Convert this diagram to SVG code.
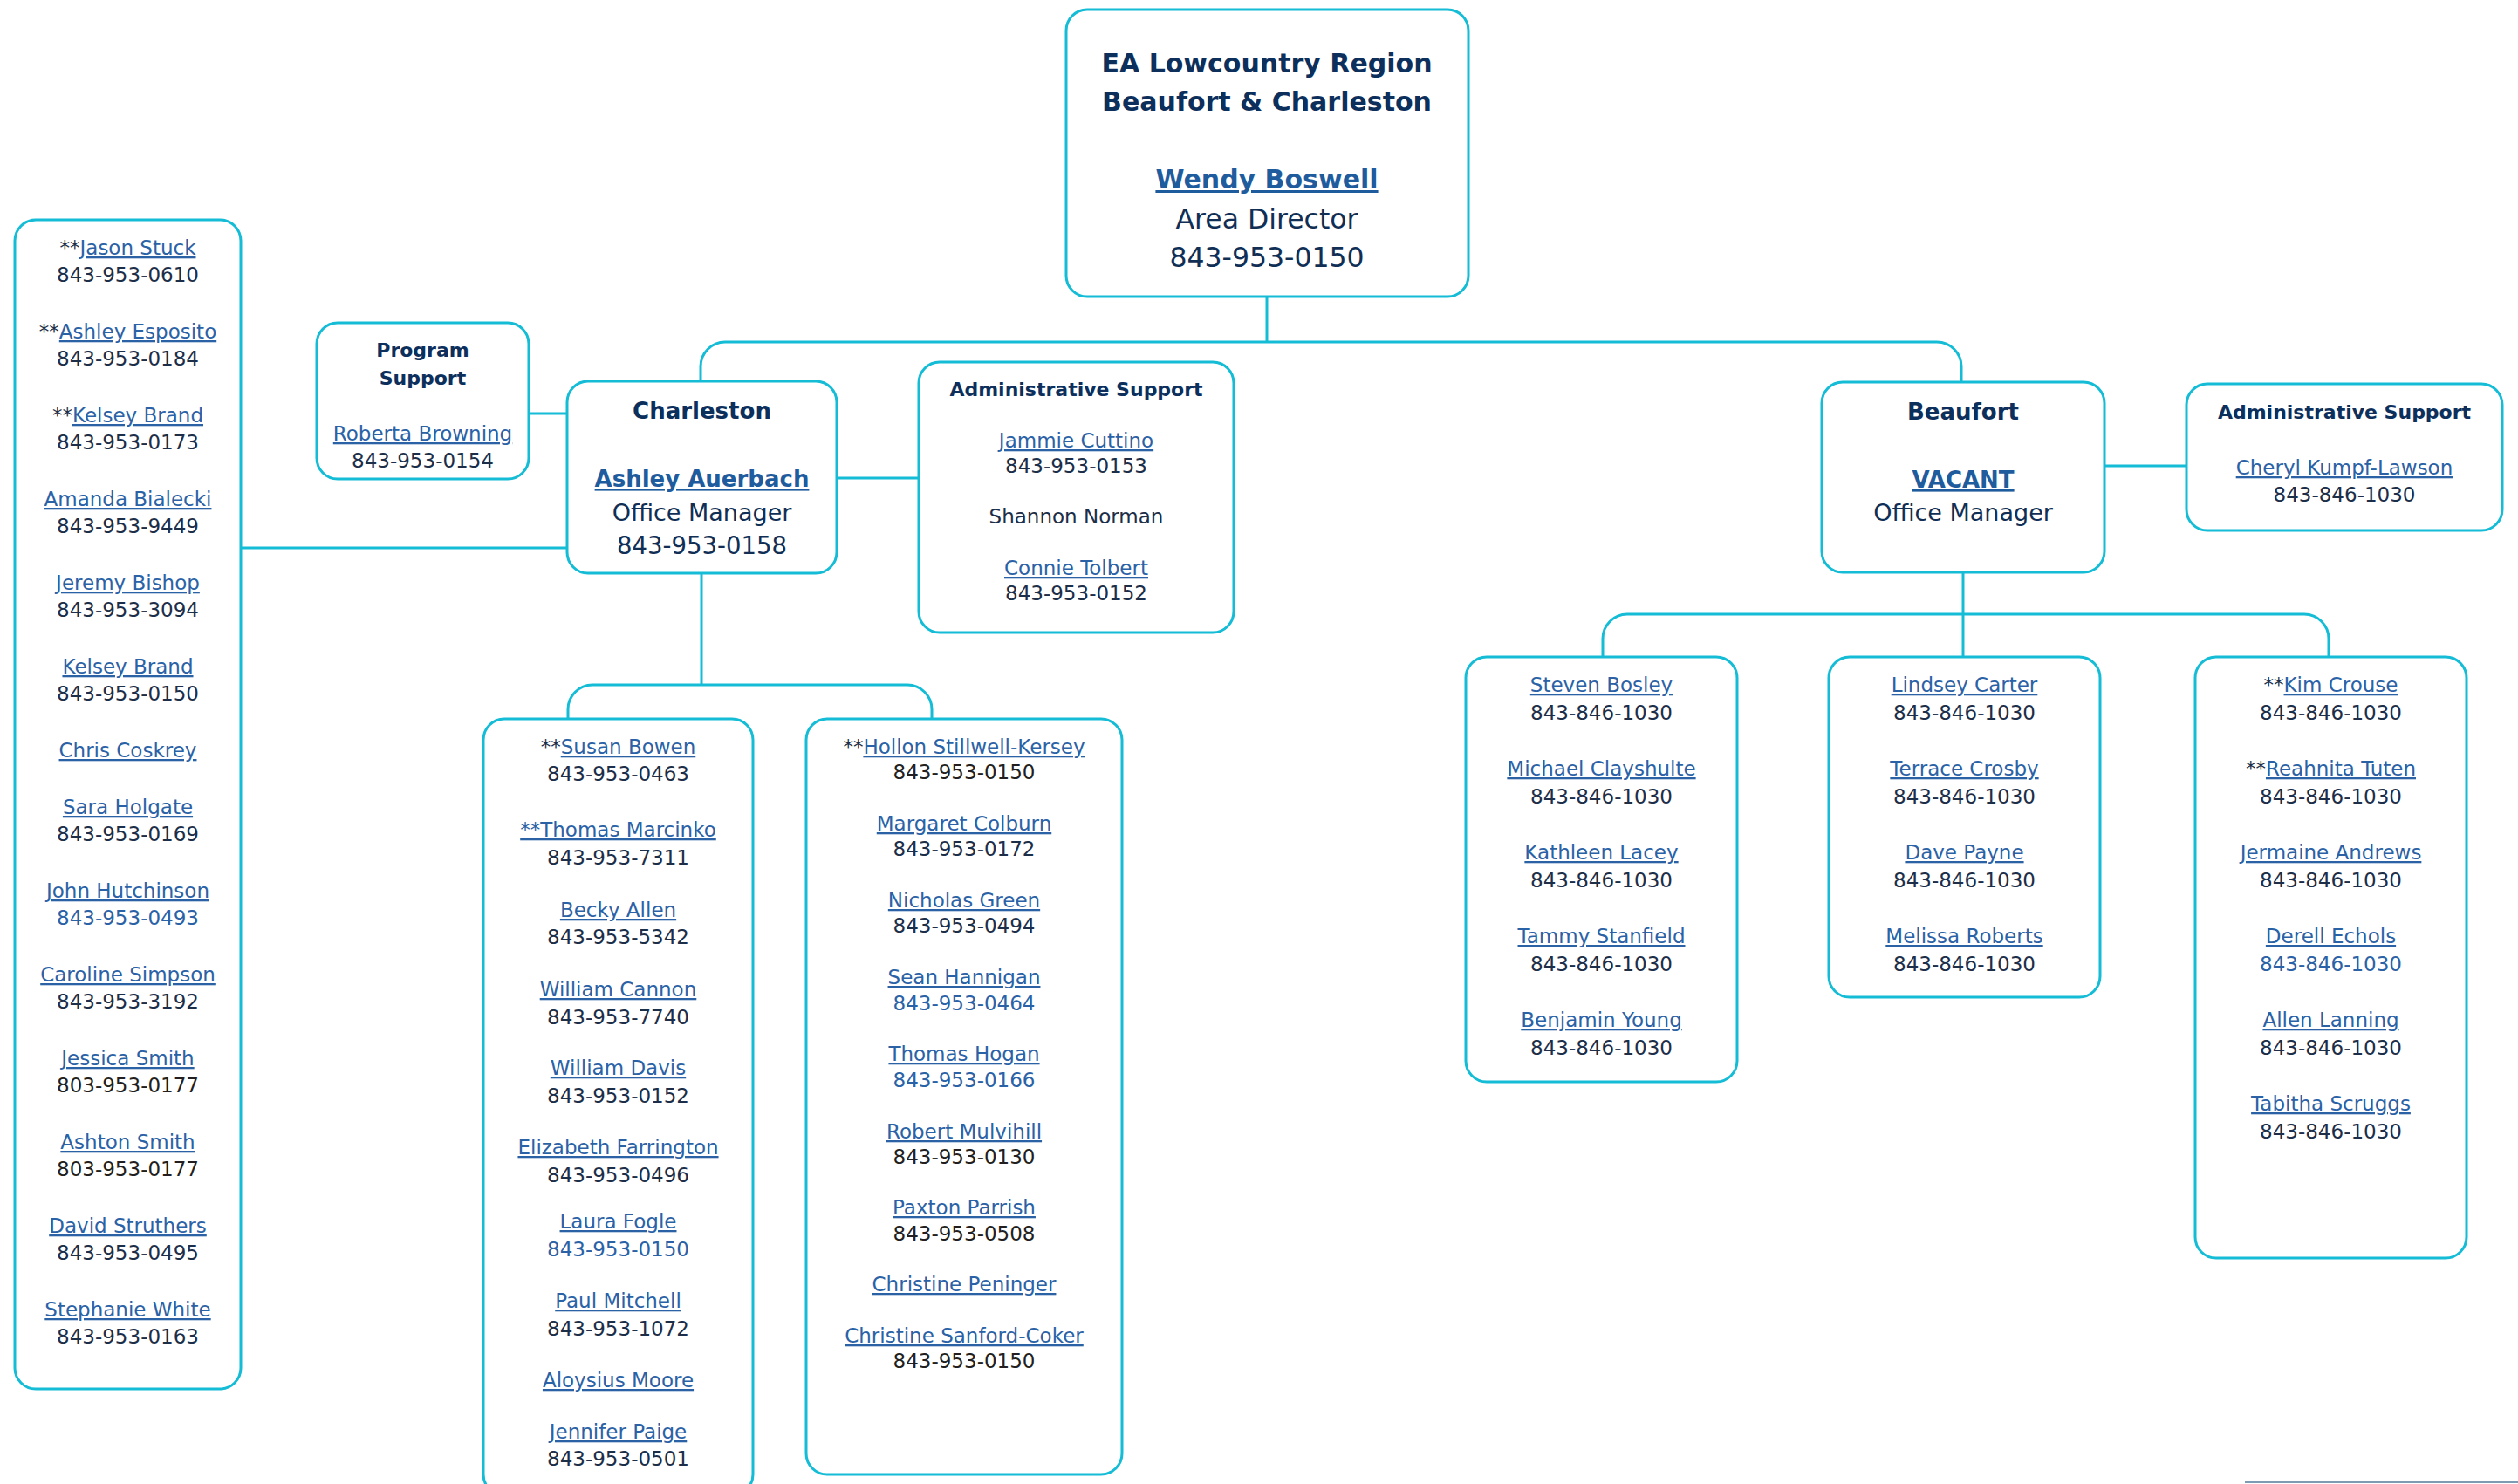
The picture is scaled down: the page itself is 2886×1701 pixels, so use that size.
<svg xmlns="http://www.w3.org/2000/svg" width="2886" height="1701" viewBox="0 0 2886 1701">
<style>
.box{fill:#fff;stroke:#14bcd6;stroke-width:3}
.cn{fill:none;stroke:#14bcd6;stroke-width:3}
text{font-family:"DejaVu Sans",sans-serif;text-anchor:middle}
.h{font-weight:bold;fill:#0c2f5c}
.h30{font-size:30px}
.h26{font-size:26px}
.h22{font-size:22px}
.bl30{font-weight:bold;font-size:30px;fill:#1f5c9e;text-decoration:underline}
.bl26{font-weight:bold;font-size:26px;fill:#1f5c9e;text-decoration:underline}
.m{fill:#112f55}
.s{font-size:23px;fill:#1c2e48}
.lk{fill:#2b62a6;text-decoration:underline}
.bk{fill:#231f20}
.bu{fill:#2b62a6}
</style>
<rect width="2886" height="1701" fill="#fff"/>
<g id="connectors">
<path class="cn" d="M1452 340V392"/>
<path class="cn" d="M803 437V420A28 28 0 0 1 831 392H2220A28 28 0 0 1 2248 420V438"/>
<path class="cn" d="M606 474H650"/>
<path class="cn" d="M276 628H650"/>
<path class="cn" d="M959 548H1053"/>
<path class="cn" d="M804 657V785"/>
<path class="cn" d="M651 824V813A28 28 0 0 1 679 785H1040A28 28 0 0 1 1068 813V824"/>
<path class="cn" d="M2412 534H2506"/>
<path class="cn" d="M2250 656V753"/>
<path class="cn" d="M1837 753V732A28 28 0 0 1 1865 704H2641A28 28 0 0 1 2669 732V753"/>
</g>
<g id="region">
<rect class="box" x="1222" y="11" width="461" height="329" rx="24"/>
<text class="h h30" x="1452" y="83">EA Lowcountry Region</text>
<text class="h h30" x="1452" y="127">Beaufort &amp; Charleston</text>
<text class="bl30" x="1452" y="216">Wendy Boswell</text>
<text class="m" x="1452" y="262" font-size="31.5">Area Director</text>
<text class="m" x="1452" y="306" font-size="31.5">843-953-0150</text>
</g>
<g id="charleston-staff-left">
<rect class="box" x="17" y="252" width="259" height="1340" rx="24"/>
<text class="s" x="146.5" y="292">**<tspan class="lk">Jason Stuck</tspan></text>
<text class="s" x="146.5" y="323">843-953-0610</text>
<text class="s" x="146.5" y="388">**<tspan class="lk">Ashley Esposito</tspan></text>
<text class="s" x="146.5" y="419">843-953-0184</text>
<text class="s" x="146.5" y="484">**<tspan class="lk">Kelsey Brand</tspan></text>
<text class="s" x="146.5" y="515">843-953-0173</text>
<text class="s lk" x="146.5" y="580">Amanda Bialecki</text>
<text class="s" x="146.5" y="611">843-953-9449</text>
<text class="s lk" x="146.5" y="676">Jeremy Bishop</text>
<text class="s" x="146.5" y="707">843-953-3094</text>
<text class="s lk" x="146.5" y="772">Kelsey Brand</text>
<text class="s" x="146.5" y="803">843-953-0150</text>
<text class="s lk" x="146.5" y="868">Chris Coskrey</text>
<text class="s lk" x="146.5" y="933">Sara Holgate</text>
<text class="s" x="146.5" y="964">843-953-0169</text>
<text class="s lk" x="146.5" y="1029">John Hutchinson</text>
<text class="s bu" x="146.5" y="1060">843-953-0493</text>
<text class="s lk" x="146.5" y="1125">Caroline Simpson</text>
<text class="s" x="146.5" y="1156">843-953-3192</text>
<text class="s lk" x="146.5" y="1221">Jessica Smith</text>
<text class="s bk" x="146.5" y="1252">803-953-0177</text>
<text class="s lk" x="146.5" y="1317">Ashton Smith</text>
<text class="s bk" x="146.5" y="1348">803-953-0177</text>
<text class="s lk" x="146.5" y="1413">David Struthers</text>
<text class="s" x="146.5" y="1444">843-953-0495</text>
<text class="s lk" x="146.5" y="1509">Stephanie White</text>
<text class="s" x="146.5" y="1540">843-953-0163</text>
</g>
<g id="program-support">
<rect class="box" x="363" y="370" width="243" height="179" rx="24"/>
<text class="h h22" x="484.5" y="409">Program</text>
<text class="h h22" x="484.5" y="441">Support</text>
<text class="s lk" x="484.5" y="505">Roberta Browning</text>
<text class="s" x="484.5" y="536">843-953-0154</text>
</g>
<g id="charleston">
<rect class="box" x="650" y="437" width="309" height="220" rx="24"/>
<text class="h h26" x="804.5" y="480">Charleston</text>
<text class="bl26" x="804.5" y="558">Ashley Auerbach</text>
<text class="m" x="804.5" y="597" font-size="27">Office Manager</text>
<text class="m" x="804.5" y="635" font-size="27.5">843-953-0158</text>
</g>
<g id="charleston-admin">
<rect class="box" x="1053" y="415" width="361" height="310" rx="24"/>
<text class="h h22" x="1233.5" y="454">Administrative Support</text>
<text class="s lk" x="1233.5" y="513">Jammie Cuttino</text>
<text class="s" x="1233.5" y="542">843-953-0153</text>
<text class="s" x="1233.5" y="600">Shannon Norman</text>
<text class="s lk" x="1233.5" y="659">Connie Tolbert</text>
<text class="s" x="1233.5" y="688">843-953-0152</text>
</g>
<g id="charleston-staff-1">
<rect class="box" x="554" y="824" width="309" height="890" rx="24"/>
<text class="s" x="708.5" y="864">**<tspan class="lk">Susan Bowen</tspan></text>
<text class="s" x="708.5" y="895">843-953-0463</text>
<text class="s lk" x="708.5" y="959">**Thomas Marcinko</text>
<text class="s" x="708.5" y="991">843-953-7311</text>
<text class="s lk" x="708.5" y="1051">Becky Allen</text>
<text class="s" x="708.5" y="1082">843-953-5342</text>
<text class="s lk" x="708.5" y="1142">William Cannon</text>
<text class="s" x="708.5" y="1174">843-953-7740</text>
<text class="s lk" x="708.5" y="1232">William Davis</text>
<text class="s" x="708.5" y="1264">843-953-0152</text>
<text class="s lk" x="708.5" y="1323">Elizabeth Farrington</text>
<text class="s" x="708.5" y="1355">843-953-0496</text>
<text class="s lk" x="708.5" y="1408">Laura Fogle</text>
<text class="s bu" x="708.5" y="1440">843-953-0150</text>
<text class="s lk" x="708.5" y="1499">Paul Mitchell</text>
<text class="s" x="708.5" y="1531">843-953-1072</text>
<text class="s lk" x="708.5" y="1590">Aloysius Moore</text>
<text class="s lk" x="708.5" y="1649">Jennifer Paige</text>
<text class="s" x="708.5" y="1680">843-953-0501</text>
</g>
<g id="charleston-staff-2">
<rect class="box" x="924" y="824" width="362" height="866" rx="24"/>
<text class="s" x="1105" y="864">**<tspan class="lk">Hollon Stillwell-Kersey</tspan></text>
<text class="s bk" x="1105" y="893">843-953-0150</text>
<text class="s lk" x="1105" y="952">Margaret Colburn</text>
<text class="s" x="1105" y="981">843-953-0172</text>
<text class="s lk" x="1105" y="1040">Nicholas Green</text>
<text class="s" x="1105" y="1069">843-953-0494</text>
<text class="s lk" x="1105" y="1128">Sean Hannigan</text>
<text class="s bu" x="1105" y="1158">843-953-0464</text>
<text class="s lk" x="1105" y="1216">Thomas Hogan</text>
<text class="s bu" x="1105" y="1246">843-953-0166</text>
<text class="s lk" x="1105" y="1305">Robert Mulvihill</text>
<text class="s bk" x="1105" y="1334">843-953-0130</text>
<text class="s lk" x="1105" y="1392">Paxton Parrish</text>
<text class="s bk" x="1105" y="1422">843-953-0508</text>
<text class="s lk" x="1105" y="1480">Christine Peninger</text>
<text class="s lk" x="1105" y="1539">Christine Sanford-Coker</text>
<text class="s bk" x="1105" y="1568">843-953-0150</text>
</g>
<g id="beaufort">
<rect class="box" x="2088" y="438" width="324" height="218" rx="24"/>
<text class="h h26" x="2250" y="481">Beaufort</text>
<text class="bl26" x="2250" y="559">VACANT</text>
<text class="m" x="2250" y="597" font-size="27">Office Manager</text>
</g>
<g id="beaufort-admin">
<rect class="box" x="2506" y="440" width="362" height="168" rx="24"/>
<text class="h h22" x="2687" y="480">Administrative Support</text>
<text class="s lk" x="2687" y="544">Cheryl Kumpf-Lawson</text>
<text class="s" x="2687" y="575">843-846-1030</text>
</g>
<g id="beaufort-staff-1">
<rect class="box" x="1680" y="753" width="311" height="487" rx="24"/>
<text class="s lk" x="1835.5" y="793">Steven Bosley</text>
<text class="s" x="1835.5" y="825">843-846-1030</text>
<text class="s lk" x="1835.5" y="889">Michael Clayshulte</text>
<text class="s" x="1835.5" y="921">843-846-1030</text>
<text class="s lk" x="1835.5" y="985">Kathleen Lacey</text>
<text class="s" x="1835.5" y="1017">843-846-1030</text>
<text class="s lk" x="1835.5" y="1081">Tammy Stanfield</text>
<text class="s" x="1835.5" y="1113">843-846-1030</text>
<text class="s lk" x="1835.5" y="1177">Benjamin Young</text>
<text class="s" x="1835.5" y="1209">843-846-1030</text>
</g>
<g id="beaufort-staff-2">
<rect class="box" x="2096" y="753" width="311" height="390" rx="24"/>
<text class="s lk" x="2251.5" y="793">Lindsey Carter</text>
<text class="s" x="2251.5" y="825">843-846-1030</text>
<text class="s lk" x="2251.5" y="889">Terrace Crosby</text>
<text class="s" x="2251.5" y="921">843-846-1030</text>
<text class="s lk" x="2251.5" y="985">Dave Payne</text>
<text class="s" x="2251.5" y="1017">843-846-1030</text>
<text class="s lk" x="2251.5" y="1081">Melissa Roberts</text>
<text class="s" x="2251.5" y="1113">843-846-1030</text>
</g>
<g id="beaufort-staff-3">
<rect class="box" x="2516" y="753" width="311" height="689" rx="24"/>
<text class="s" x="2671.5" y="793">**<tspan class="lk">Kim Crouse</tspan></text>
<text class="s" x="2671.5" y="825">843-846-1030</text>
<text class="s" x="2671.5" y="889">**<tspan class="lk">Reahnita Tuten</tspan></text>
<text class="s" x="2671.5" y="921">843-846-1030</text>
<text class="s lk" x="2671.5" y="985">Jermaine Andrews</text>
<text class="s" x="2671.5" y="1017">843-846-1030</text>
<text class="s lk" x="2671.5" y="1081">Derell Echols</text>
<text class="s bu" x="2671.5" y="1113">843-846-1030</text>
<text class="s lk" x="2671.5" y="1177">Allen Lanning</text>
<text class="s" x="2671.5" y="1209">843-846-1030</text>
<text class="s lk" x="2671.5" y="1273">Tabitha Scruggs</text>
<text class="s" x="2671.5" y="1305">843-846-1030</text>
</g>
<line x1="2573" y1="1699" x2="2886" y2="1699" stroke="#7d9cb4" stroke-width="2"/>
</svg>
